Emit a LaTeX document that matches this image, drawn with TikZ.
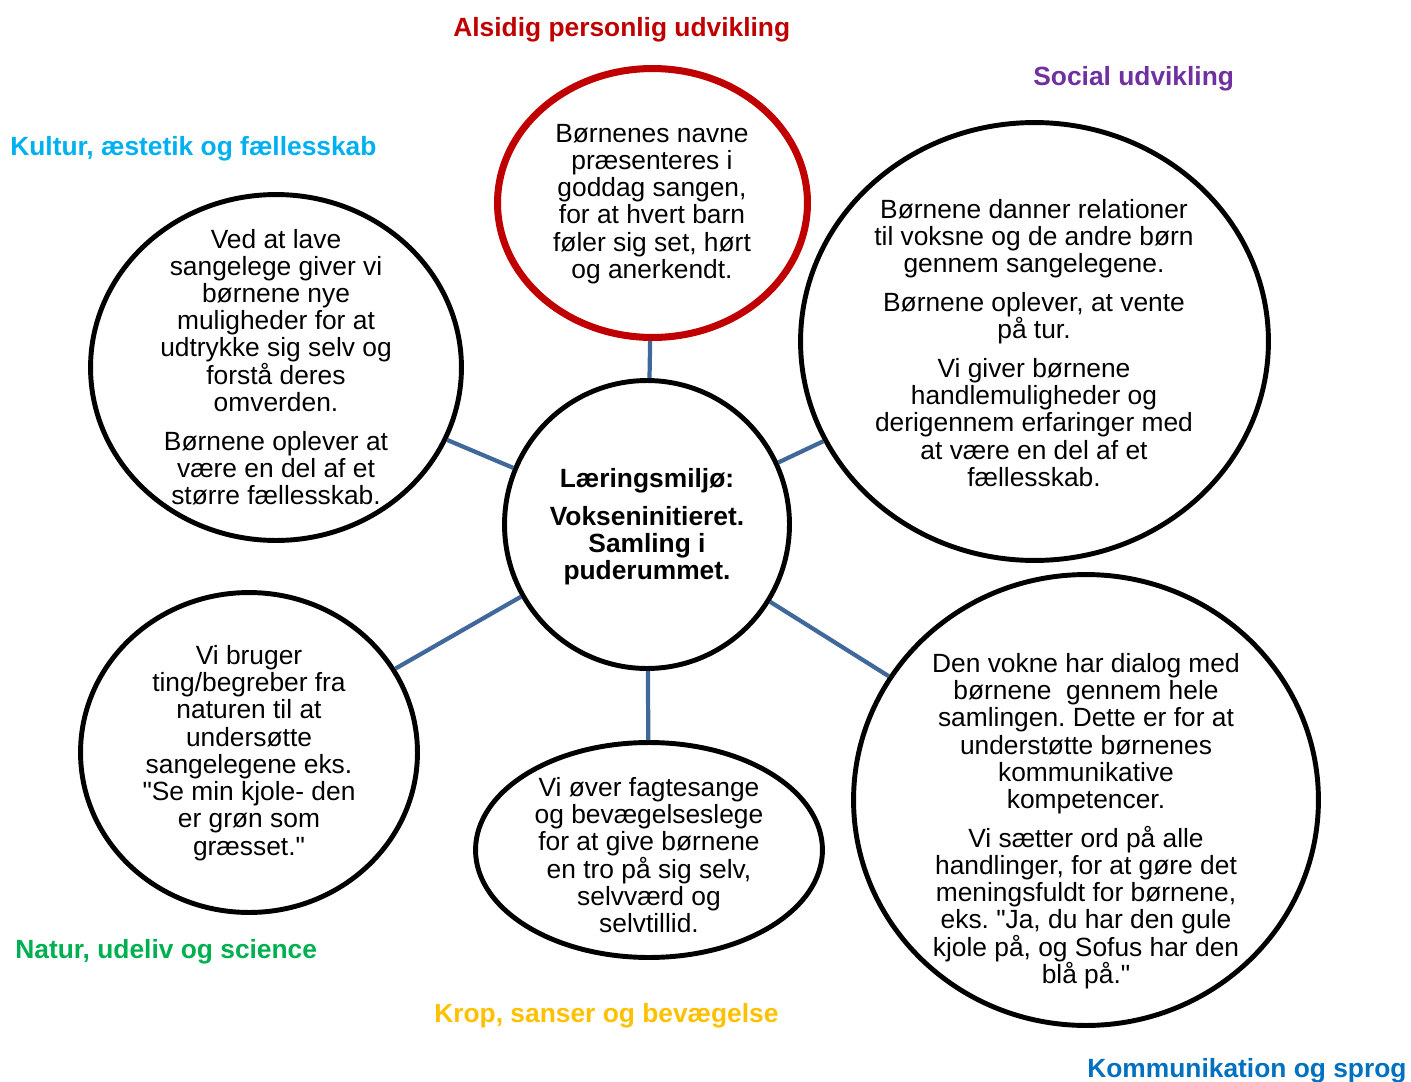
\documentclass[tikz,border=0pt]{standalone}
\usepackage{fontspec}
\setmainfont{Liberation Sans}[Ligatures=TeXOff]
\usetikzlibrary{shapes.geometric}
\definecolor{linkblue}{HTML}{41689B}
\definecolor{alsidigred}{HTML}{C00000}
\definecolor{socialpurple}{HTML}{7030A0}
\definecolor{kulturcyan}{HTML}{00B0F0}
\definecolor{naturgreen}{HTML}{00B050}
\definecolor{kropyellow}{HTML}{FFC000}
\definecolor{komblue}{HTML}{0070C0}
\frenchspacing

\begin{document}
\begin{tikzpicture}[x=0.02cm,y=-0.02cm,
	bubble/.style={ellipse,draw=black,line width=2.8pt,inner sep=0pt,fill=white},
	body/.style={align=center,inner sep=0pt,font=\fontsize{15}{15.5}\selectfont},
	area/.style={anchor=base west,inner sep=0pt,font=\fontsize{15}{15.5}\selectfont\bfseries},
	link/.style={draw=linkblue,line width=2.4pt}]
		\useasboundingbox (0,0) rectangle (1411,1082);
		% the bubbles
		\node[bubble,draw=alsidigred,line width=4pt,minimum width=6.2cm,minimum height=5.38cm] (alsidig) at (652.5,203) {};
		\node[bubble,minimum width=5.7cm,minimum height=5.76cm] (laering) at (647,524.5) {};
		\node[bubble,minimum width=7.42cm,minimum height=6.92cm] (kultur) at (276,367.5) {};
		\node[bubble,minimum width=9.36cm,minimum height=8.76cm] (social) at (1034.5,341.5) {};
		\node[bubble,minimum width=6.74cm,minimum height=6.4cm] (natur) at (249,752.5) {};
		\node[bubble,minimum width=6.94cm,minimum height=4.3cm] (krop) at (649,850) {};
		\node[bubble,minimum width=9.3cm,minimum height=9.02cm] (kom) at (1086,800) {};
		% links from the middle
		\draw[link] (laering) -- (alsidig);
		\draw[link] (laering) -- (kultur);
		\draw[link] (laering) -- (social);
		\draw[link] (laering) -- (natur);
		\draw[link] (laering) -- (krop);
		\draw[link] (laering) -- (kom);
		% texts in the bubbles
		\node[body] (alsidigtxt) at (652,204) {Børnenes navne\\præsenteres i\\goddag sangen,\\for at hvert barn\\føler sig set, hørt\\og anerkendt.};
		\node[body,font=\fontsize{15}{15.5}\selectfont\bfseries] (laeringtxt) at (647,527) {Læringsmiljø:\\[6pt]Vokseninitieret.\\Samling i\\puderummet.};
		\node[body] (kulturtxt) at (276,367) {Ved at lave\\sangelege giver vi\\børnene nye\\muligheder for at\\udtrykke sig selv og\\forstå deres\\omverden.\\[6.5pt]Børnene oplever at\\være en del af et\\større fællesskab.};
		\node[body] (socialtxt) at (1034,343) {Børnene danner relationer\\til voksne og de andre børn\\gennem sangelegene.\\[6.5pt]Børnene oplever, at vente\\på tur.\\[6.5pt]Vi giver børnene\\handlemuligheder og\\derigennem erfaringer med\\at være en del af et\\fællesskab.};
		\node[body] (naturtxt) at (249,753) {Vi bruger\\ting/begreber fra\\naturen til at\\undersøtte\\sangelegene eks.\\"Se min kjole- den\\er grøn som\\græsset."};
		\node[body] (kroptxt) at (649,855) {Vi øver fagtesange\\og bevægelseslege\\for at give børnene\\en tro på sig selv,\\selvværd og\\selvtillid.};
		\node[body] (komtxt) at (1086,821) {Den vokne har dialog med\\børnene~ gennem hele\\samlingen. Dette er for at\\understøtte børnenes\\kommunikative\\kompetencer.\\[6.5pt]Vi sætter ord på alle\\handlinger, for at gøre det\\meningsfuldt for børnene,\\eks. "Ja, du har den gule\\kjole på, og Sofus har den\\blå på."};
		% the areas
		\node[area,text=alsidigred] (alsidiglbl) at (453,36) {Alsidig personlig udvikling};
		\node[area,text=socialpurple] (sociallbl) at (1033,85) {Social udvikling};
		\node[area,text=kulturcyan] (kulturlbl) at (10,155) {Kultur, æstetik og fællesskab};
		\node[area,text=naturgreen] (naturlbl) at (15,958) {Natur, udeliv og science};
		\node[area,text=kropyellow] (kroplbl) at (434,1022) {Krop, sanser og bevægelse};
		\node[area,text=komblue] (komlbl) at (1087,1077) {Kommunikation og sprog};
\end{tikzpicture}
\end{document}
